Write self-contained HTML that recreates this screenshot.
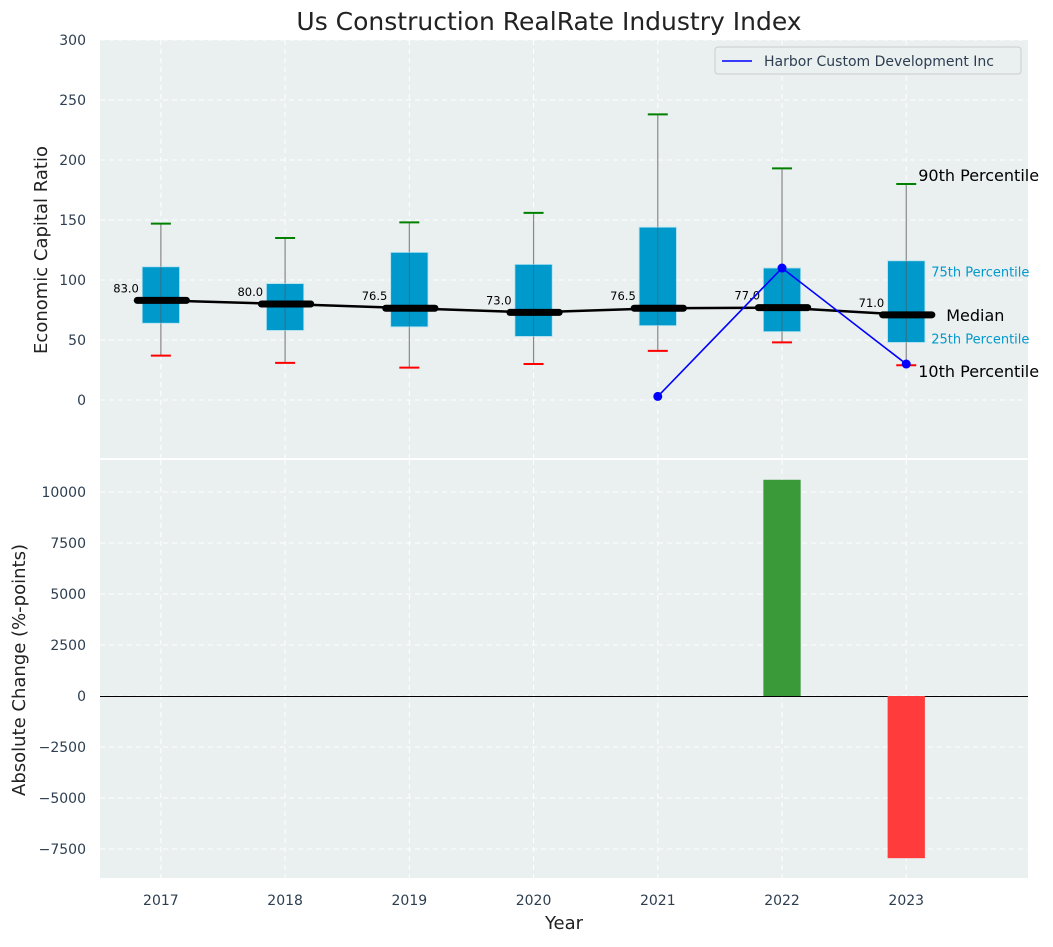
<!DOCTYPE html>
<html><head><meta charset="utf-8"><style>
body{margin:0;background:#fff;font-family:"Liberation Sans","DejaVu Sans",sans-serif;}
svg text{font-family:"DejaVu Sans","Liberation Sans",sans-serif;}
</style></head><body>
<svg id="c" width="1053" height="942" xmlns="http://www.w3.org/2000/svg"></svg>
<script>
const years=[2017,2018,2019,2020,2021,2022,2023];
const p10=[37,31,27,30,41,48,29];
const q1=[64,58,61,53,62,57,48];
const med=[83,80,76.5,73,76.5,77,71];
const q3=[111,97,123,113,144,110,116];
const p90=[147,135,148,156,238,193,180];
const compYears=[2021,2022,2023];
const compVals=[3,110,30];
const changeYears=[2022,2023];
const changeVals=[10600,-7950];
const topTicks=[0,50,100,150,200,250,300];
const botTicks=[-7500,-5000,-2500,0,2500,5000,7500,10000];

const NS="http://www.w3.org/2000/svg";
const svg=document.getElementById('c');
function el(tag,attrs,parent){const e=document.createElementNS(NS,tag);for(const k in attrs)e.setAttribute(k,attrs[k]);(parent||svg).appendChild(e);return e;}
const L=100,R=1028;
const x=v=>L+(v-2016.51)/(2023.98-2016.51)*(R-L);
const T0=40,T1=458;const yT=v=>T0+(300-v)/(300-(-48.3))*(T1-T0);
const B0=460,B1=878;const yB=v=>B0+(11569-v)/(11569-(-8922))*(B1-B0);

let e=el('rect',{x:L,y:T0,width:R-L,height:T1-T0,fill:'#eaeff0'});

e=el('rect',{x:L,y:B0,width:R-L,height:B1-B0,fill:'#eaeff0'});


years.forEach(yr=>{
 el('line',{x1:x(yr),x2:x(yr),y1:T0,y2:T1,stroke:'#fff','stroke-dasharray':'5,4','stroke-width':1});
 el('line',{x1:x(yr),x2:x(yr),y1:B0,y2:B1,stroke:'#fff','stroke-dasharray':'5,4','stroke-width':1});
 const t=el('text',{x:x(yr),y:905,'text-anchor':'middle','font-size':14,fill:'#2d3e50'});t.textContent=yr;
 
});
topTicks.forEach(v=>{
 el('line',{x1:L,x2:R,y1:yT(v),y2:yT(v),stroke:'#fff','stroke-dasharray':'5,4'});
 const t=el('text',{x:86,y:yT(v)+5,'text-anchor':'end','font-size':14,fill:'#2d3e50'});t.textContent=v;
 
});
botTicks.forEach(v=>{
 el('line',{x1:L,x2:R,y1:yB(v),y2:yB(v),stroke:'#fff','stroke-dasharray':'5,4'});
 const t=el('text',{x:86,y:yB(v)+5,'text-anchor':'end','font-size':14,fill:'#2d3e50'});t.textContent=String(v).replace('-','\u2212');
 
});

const bw=(x(2018)-x(2017))*0.3;
years.forEach((yr,i)=>{
 const cx=x(yr);
 let w=el('line',{x1:cx,x2:cx,y1:yT(p90[i]),y2:yT(p10[i]),stroke:'#888','stroke-width':1.2});
 
 let b=el('rect',{x:cx-bw/2,y:yT(q3[i]),width:bw,height:yT(q1[i])-yT(q3[i]),fill:'#0099cc',stroke:'#aee0f0','stroke-width':0.8});
 
 el('line',{x1:cx,x2:cx,y1:yT(q3[i]),y2:yT(q1[i]),stroke:'#555','stroke-width':1,opacity:0.6});
 let c=el('line',{x1:cx-10,x2:cx+10,y1:yT(p90[i]),y2:yT(p90[i]),stroke:'#008000','stroke-width':2});
 
 c=el('line',{x1:cx-10,x2:cx+10,y1:yT(p10[i]),y2:yT(p10[i]),stroke:'#ff0000','stroke-width':2});
 
});
let pl=el('polyline',{points:years.map((yr,i)=>x(yr)+','+yT(med[i])).join(' '),fill:'none',stroke:'#000','stroke-width':2.5});

years.forEach((yr,i)=>{
 const cx=x(yr);
 let m=el('line',{x1:cx-bw/2-5,x2:cx+bw/2+7,y1:yT(med[i]),y2:yT(med[i]),stroke:'#000','stroke-width':7,'stroke-linecap':'round'});
 
 let t=el('text',{x:cx-22,y:yT(med[i])-8,'text-anchor':'end','font-size':11.5,fill:'#000'});t.textContent=med[i].toFixed(1);
 
});
let cl=el('polyline',{points:compYears.map((yr,i)=>x(yr)+','+yT(compVals[i])).join(' '),fill:'none',stroke:'#0000ff','stroke-width':1.6});

compYears.forEach((yr,i)=>{
 let p=el('circle',{cx:x(yr),cy:yT(compVals[i]),r:4.5,fill:'#0000ff'});
 
});
const li=years.length-1,lx=x(years[li]);
[['90th Percentile',p90[li],16,'#000',12],['10th Percentile',p10[li],16,'#000',12],['Median',med[li],16,'#000',40],['75th Percentile',q3[li]-8,13,'#0099cc',25],['25th Percentile',q1[li]+4,13,'#0099cc',25]].forEach(a=>{
 let t=el('text',{x:lx+a[4],y:yT(a[1])+(a[0].startsWith('10')?12:a[0].startsWith('90')?-3:6),'font-size':a[2],fill:a[3]});t.textContent=a[0];
 
});
let lg=el('rect',{x:715,y:47,width:306,height:27,fill:'#eaeff0',stroke:'#ccc',rx:3});

el('line',{x1:722,x2:752,y1:61,y2:61,stroke:'#0000ff','stroke-width':1.6});
let lt=el('text',{x:764,y:66,'font-size':14,fill:'#2d3e50'});lt.textContent='Harbor Custom Development Inc';


const z=Math.round(yB(0))+0.5;
let zl=el('line',{x1:L,x2:R,y1:z,y2:z,stroke:'#000','stroke-width':1});

changeYears.forEach((yr,i)=>{
 const v=changeVals[i];
 let b=el('rect',{x:x(yr)-bw/2,y:Math.min(yB(v),yB(0)),width:bw,height:Math.abs(yB(v)-yB(0)),fill:v>=0?'#3a9a3a':'#ff3b3b'});
 
});

let t=el('text',{x:549,y:30,'text-anchor':'middle','font-size':25,fill:'#222'});t.textContent='Us Construction RealRate Industry Index';

t=el('text',{x:564,y:929,'text-anchor':'middle','font-size':18,fill:'#222'});t.textContent='Year';

t=el('text',{x:47,y:250,'text-anchor':'middle','font-size':18,fill:'#222',transform:'rotate(-90 47 250)'});t.textContent='Economic Capital Ratio';

t=el('text',{x:25,y:670,'text-anchor':'middle','font-size':18,fill:'#222',transform:'rotate(-90 25 670)'});t.textContent='Absolute Change (%-points)';

</script>
</body></html>
